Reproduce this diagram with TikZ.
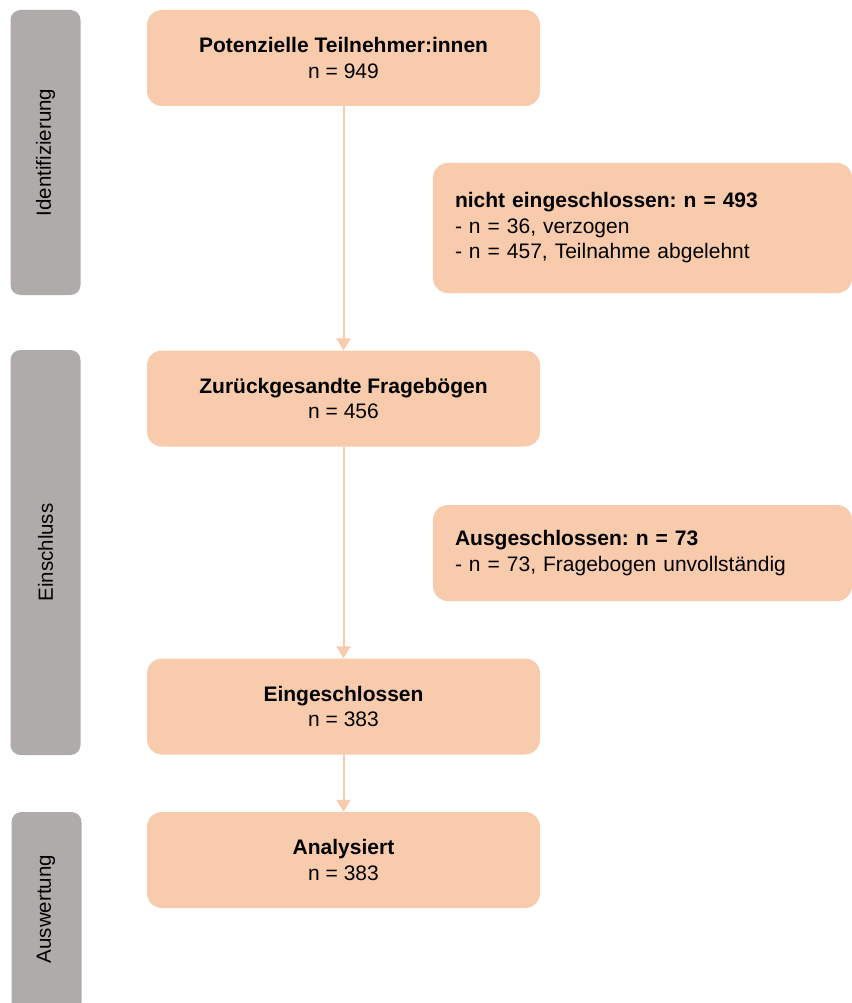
\documentclass[tikz,border=0pt]{standalone}
\usepackage{fontspec}
\setmainfont{Liberation Sans}
\usetikzlibrary{arrows.meta}
\definecolor{peach}{HTML}{F7CBAC}
\definecolor{bargray}{HTML}{AFABAB}
\frenchspacing
\tikzset{
  mainbox/.style={fill=peach, draw=none, rounded corners=15pt, minimum width=393pt, minimum height=96pt, align=center, inner sep=0pt, font=\fontsize{21}{25.5}\selectfont},
  sidebox/.style={fill=peach, draw=none, rounded corners=15pt, minimum width=419pt, align=left, inner sep=0pt, font=\fontsize{21}{25.5}\selectfont},
  phase/.style={fill=bargray, draw=none, rounded corners=10pt, minimum width=70pt, inner sep=0pt},
  phaselabel/.style={rotate=90, font=\fontsize{20.5}{25}\selectfont},
  flow/.style={draw=peach, line width=2pt, -{Triangle[width=14pt,length=12pt]}}
}
\begin{document}
\begin{tikzpicture}[x=1pt,y=-1pt]
\useasboundingbox (0,0) rectangle (851,1003);
% phase bars
\node[phase, minimum height=285pt] (ph1) at (45.5,152.5) {};
\node[phaselabel] (ph1t) at (ph1.center) {Identifizierung};
\node[phase, minimum height=405pt] (ph2) at (45.5,552.5) {};
\node[phaselabel] (ph2t) at (ph2.center) {Einschluss};
\node[phase, minimum height=200pt] (ph3) at (46.5,912) {};
\node[phaselabel] (ph3t) at (46,909) {Auswertung};
% main boxes
\node[mainbox] (p) at (343.5,58) {\textbf{Potenzielle Teilnehmer:innen}\\n = 949};
\node[mainbox] (z) at (343.5,398.5) {\textbf{Zurückgesandte Fragebögen}\\n = 456};
\node[mainbox] (e) at (343.5,706.5) {\textbf{Eingeschlossen}\\n = 383};
\node[mainbox] (a) at (343.5,860) {\textbf{Analysiert}\\n = 383};
% side boxes
\node[sidebox, minimum height=130pt, text width=375pt] (x1) at (642.5,228) {\textbf{nicht eingeschlossen: n = 493}\\- n = 36, verzogen\\- n = 457, Teilnahme abgelehnt};
\node[sidebox, minimum height=96pt, text width=375pt] (x2) at (642.5,553) {\textbf{Ausgeschlossen: n = 73}\\- n = 73, Fragebogen unvollständig};
% connectors
\draw[flow] (p.south) -- (z.north);
\draw[flow] (z.south) -- (e.north);
\draw[flow] (e.south) -- (a.north);
\end{tikzpicture}
\end{document}
